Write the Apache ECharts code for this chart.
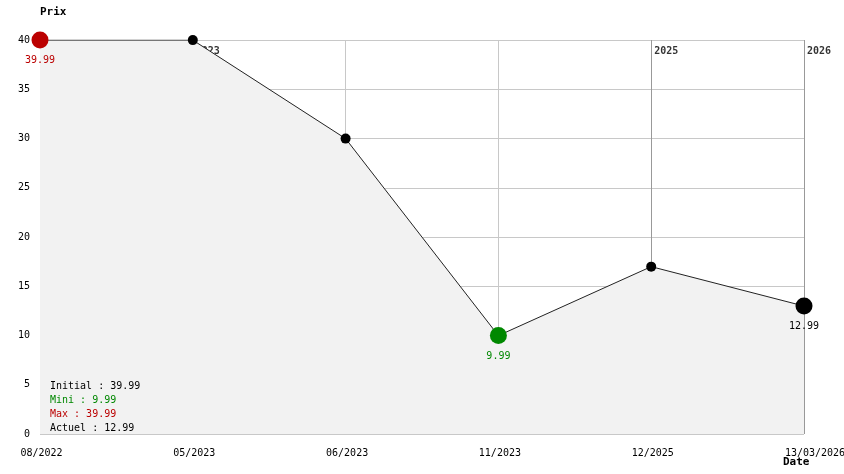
<!DOCTYPE html>
<html>
<head>
<meta charset="utf-8">
<script src="https://cdn.jsdelivr.net/npm/echarts@6/dist/echarts.min.js"></script>
<style>html,body{margin:0;padding:0;background:#fff;}#c{width:844px;height:474px;}</style>
</head>
<body>
<div id="c"></div>
<script>
const dates = ['08/2022', '05/2023', '06/2023', '11/2023', '12/2025', '13/03/2026'];
const prices = [39.99, 39.99, 29.99, 9.99, 16.99, 12.99];
const yearMarks = [['05/2023', '2023'], ['12/2025', '2025'], ['13/03/2026', '2026']];
const yTicks = [0, 5, 10, 15, 20, 25, 30, 35, 40];

const FONT = '"DejaVu Sans Mono", "Liberation Mono", monospace';
const RED = '#bb0000', GREEN = '#008800', BLACK = '#000000';

let minIdx = 0, maxIdx = 0;
prices.forEach((p, i) => { if (p < prices[minIdx]) minIdx = i; if (p > prices[maxIdx]) maxIdx = i; });
const lastIdx = prices.length - 1;

const points = prices.map((p, i) => {
  let color = BLACK, size = 10, lbl = false;
  if (i === maxIdx) { color = RED; size = 17; lbl = true; }
  else if (i === minIdx) { color = GREEN; size = 17; lbl = true; }
  else if (i === lastIdx) { color = BLACK; size = 17; lbl = true; }
  return {
    value: p,
    symbolSize: size,
    itemStyle: { color: color },
    label: { show: lbl, position: 'bottom', distance: 7, color: color, fontFamily: FONT, fontSize: 10, formatter: p.toFixed(2) }
  };
});

const chart = echarts.init(document.getElementById('c'), null, { renderer: 'canvas' });
chart.setOption({
  animation: false,
  backgroundColor: '#fff',
  textStyle: { fontFamily: FONT },
  grid: { left: 40, right: 40, top: 40, bottom: 40, containLabel: false, outerBoundsMode: 'none' },
  title: [
    { text: 'Prix', left: 40, top: 7, padding: 0, textStyle: { fontFamily: FONT, fontSize: 11, fontWeight: 'bold', color: '#000' } },
    { text: 'Date', left: 783, top: 457, padding: 0, textStyle: { fontFamily: FONT, fontSize: 11, fontWeight: 'bold', color: '#000' } },
    {
      text: [
        '{a|Initial : ' + prices[0].toFixed(2) + '}',
        '{g|Mini : ' + prices[minIdx].toFixed(2) + '}',
        '{r|Max : ' + prices[maxIdx].toFixed(2) + '}',
        '{a|Actuel : ' + prices[lastIdx].toFixed(2) + '}'
      ].join('\n'),
      left: 50, top: 379, padding: 0,
      textStyle: {
        fontFamily: FONT, fontSize: 10, fontWeight: 'normal', lineHeight: 14,
        rich: {
          a: { color: '#000', fontFamily: FONT, fontSize: 10, lineHeight: 14 },
          g: { color: GREEN, fontFamily: FONT, fontSize: 10, lineHeight: 14 },
          r: { color: RED, fontFamily: FONT, fontSize: 10, lineHeight: 14 }
        }
      }
    }
  ],
  xAxis: {
    type: 'category',
    data: dates,
    boundaryGap: false,
    axisLine: { show: false },
    axisTick: { show: false },
    axisLabel: {
      color: '#000', fontFamily: FONT, fontSize: 10, margin: 14, interval: 0, hideOverlap: false,
      formatter: (v, i) => (i === dates.length - 1 ? '{last|' + v + '}' : '{n|' + v + '}'),
      rich: {
        n: { color: '#000', fontFamily: FONT, fontSize: 10, padding: [0, 0, 0, 3] },
        last: { color: '#000', fontFamily: FONT, fontSize: 10, padding: [0, 0, 0, 22] }
      }
    },
    splitLine: { show: true, lineStyle: { color: '#c8c8c8', width: 1 } }
  },
  yAxis: {
    type: 'value',
    min: yTicks[0], max: yTicks[yTicks.length - 1], interval: 5,
    axisLine: { show: false },
    axisTick: { show: false },
    axisLabel: { color: '#000', fontFamily: FONT, fontSize: 10, margin: 10 },
    splitLine: { show: true, lineStyle: { color: '#c8c8c8', width: 1 } }
  },
  series: [
    {
      name: 'years',
      type: 'scatter',
      z: 1,
      symbolSize: 0,
      silent: true,
      data: yearMarks.map(m => ({ value: [m[0], yTicks[yTicks.length - 1]], label: { formatter: m[1] } })),
      label: { show: true, position: 'right', distance: 3, offset: [0, 11], color: '#000', fontFamily: FONT, fontSize: 10, fontWeight: 'bold' },
      markLine: {
        silent: true,
        z: 1,
        symbol: 'none',
        label: { show: false },
        lineStyle: { color: '#999999', type: 'solid', width: 1 },
        data: yearMarks.map(m => ({ xAxis: m[0] }))
      }
    },
    {
      name: 'Prix',
      type: 'line',
      z: 2,
      data: points,
      symbol: 'circle',
      lineStyle: { color: '#222', width: 1 },
      areaStyle: { color: '#f2f2f2', opacity: 1 },
      emphasis: { disabled: true }
    }
  ]
});
</script>
</body>
</html>
